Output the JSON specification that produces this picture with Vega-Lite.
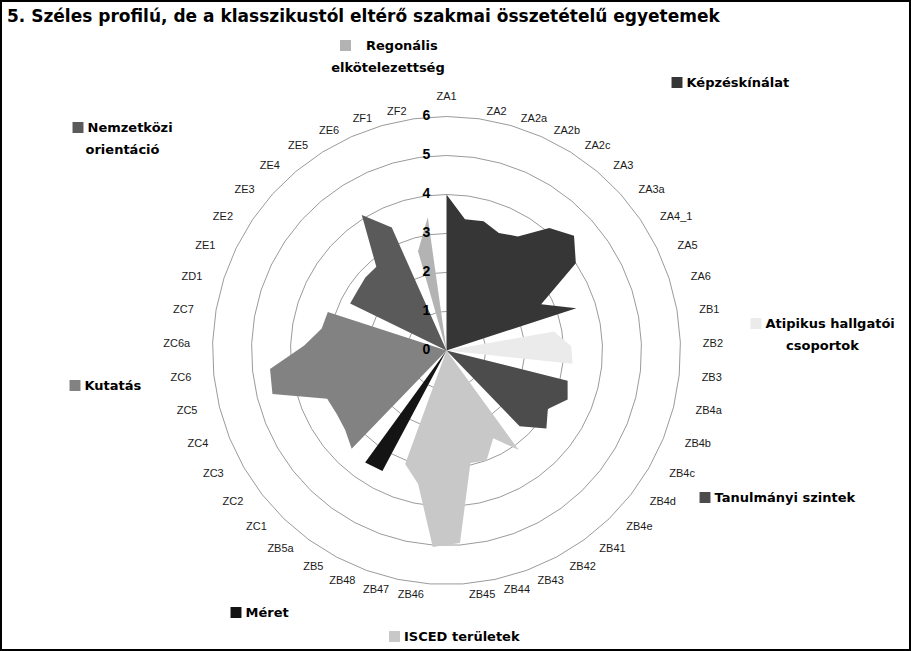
{
  "$schema": "https://vega.github.io/schema/vega-lite/v6.json",
  "width": 911,
  "height": 651,
  "padding": 0,
  "autosize": {"type": "none"},
  "background": "white",
  "title": {
    "text": "5. Széles profilú, de a klasszikustól eltérő szakmai összetételű egyetemek",
    "anchor": "start", "frame": "group", "orient": "top", "offset": -21, "dx": 7, "dy": 17.5,
    "baseline": "alphabetic", "font": "DejaVu Sans", "fontSize": 17, "fontWeight": "bold", "color": "black"
  },
  "config": {
    "view": {"stroke": "black", "strokeWidth": 4},
    "legend": {
      "orient": "none", "symbolType": "square", "symbolSize": 120, "symbolStrokeWidth": 0,
      "labelFont": "DejaVu Sans", "labelFontSize": 13, "labelFontWeight": "bold", "labelColor": "black",
      "labelOffset": 3, "padding": 0,
      "titleFont": "DejaVu Sans", "titleFontSize": 13, "titleFontWeight": "bold", "titleColor": "black",
      "titleOrient": "bottom", "titleAnchor": "middle", "titlePadding": 9
    }
  },
  "datasets": {
    "cats": [
      {"cat": "ZA1", "group": "Képzéskínálat", "value": 4.0},
      {"cat": "ZA2", "group": "Képzéskínálat", "value": 3.4},
      {"cat": "ZA2a", "group": "Képzéskínálat", "value": 3.45},
      {"cat": "ZA2b", "group": "Képzéskínálat", "value": 3.3},
      {"cat": "ZA2c", "group": "Képzéskínálat", "value": 3.45},
      {"cat": "ZA3", "group": "Képzéskínálat", "value": 4.1},
      {"cat": "ZA3a", "group": "Képzéskínálat", "value": 4.4},
      {"cat": "ZA4_1", "group": "Képzéskínálat", "value": 4.0},
      {"cat": "ZA5", "group": "Képzéskínálat", "value": 2.7},
      {"cat": "ZA6", "group": "Képzéskínálat", "value": 3.5},
      {"cat": "ZB1", "group": "Atipikus hallgatói csoportok", "value": 2.8},
      {"cat": "ZB2", "group": "Atipikus hallgatói csoportok", "value": 3.2},
      {"cat": "ZB3", "group": "Atipikus hallgatói csoportok", "value": 3.25},
      {"cat": "ZB4a", "group": "Tanulmányi szintek", "value": 3.2},
      {"cat": "ZB4b", "group": "Tanulmányi szintek", "value": 3.35},
      {"cat": "ZB4c", "group": "Tanulmányi szintek", "value": 3.0},
      {"cat": "ZB4d", "group": "Tanulmányi szintek", "value": 3.25},
      {"cat": "ZB4e", "group": "Tanulmányi szintek", "value": 2.7},
      {"cat": "ZB41", "group": "ISCED területek", "value": 3.15},
      {"cat": "ZB42", "group": "ISCED területek", "value": 2.55},
      {"cat": "ZB43", "group": "ISCED területek", "value": 3.0},
      {"cat": "ZB44", "group": "ISCED területek", "value": 2.95},
      {"cat": "ZB45", "group": "ISCED területek", "value": 4.95},
      {"cat": "ZB46", "group": "ISCED területek", "value": 5.05},
      {"cat": "ZB47", "group": "ISCED területek", "value": 3.5},
      {"cat": "ZB48", "group": "ISCED területek", "value": 3.1},
      {"cat": "ZB5", "group": "Méret", "value": 3.5},
      {"cat": "ZB5a", "group": "Méret", "value": 3.55},
      {"cat": "ZC1", "group": "Kutatás", "value": 3.5},
      {"cat": "ZC2", "group": "Kutatás", "value": 3.3},
      {"cat": "ZC3", "group": "Kutatás", "value": 3.25},
      {"cat": "ZC4", "group": "Kutatás", "value": 3.3},
      {"cat": "ZC5", "group": "Kutatás", "value": 4.6},
      {"cat": "ZC6", "group": "Kutatás", "value": 4.55},
      {"cat": "ZC6a", "group": "Kutatás", "value": 3.65},
      {"cat": "ZC7", "group": "Kutatás", "value": 3.25},
      {"cat": "ZD1", "group": "Kutatás", "value": 3.2},
      {"cat": "ZE1", "group": "Nemzetközi orientáció", "value": 2.75},
      {"cat": "ZE2", "group": "Nemzetközi orientáció", "value": 2.75},
      {"cat": "ZE3", "group": "Nemzetközi orientáció", "value": 2.8},
      {"cat": "ZE4", "group": "Nemzetközi orientáció", "value": 2.8},
      {"cat": "ZE5", "group": "Nemzetközi orientáció", "value": 4.1},
      {"cat": "ZE6", "group": "Nemzetközi orientáció", "value": 3.45},
      {"cat": "ZF1", "group": "Regonális elkötelezettség", "value": 2.65},
      {"cat": "ZF2", "group": "Regonális elkötelezettség", "value": 3.45}
    ]
  },
  "resolve": {"scale": {"color": "independent"}, "legend": {"color": "independent"}},
  "layer": [
    {
      "data": {"name": "cats"},
      "transform": [
        {"window": [{"op": "row_number", "as": "rn"}]},
        {"calculate": "(datum.rn - 1) * 2 * PI / 45", "as": "th"},
        {"calculate": "[1,2,3,4,5,6]", "as": "lv"},
        {"flatten": ["lv"]},
        {"calculate": "datum.lv * sin(datum.th)", "as": "px"},
        {"calculate": "datum.lv * cos(datum.th)", "as": "py"}
      ],
      "mark": {"type": "line", "interpolate": "linear-closed", "color": "#808080", "strokeWidth": 0.8},
      "encoding": {
        "x": {"field": "px", "type": "quantitative", "scale": {"domain": [-11.449, 11.91], "nice": false, "zero": false}, "axis": null},
        "y": {"field": "py", "type": "quantitative", "scale": {"domain": [-7.705, 8.987], "nice": false, "zero": false}, "axis": null},
        "detail": {"field": "lv", "type": "nominal"},
        "order": {"field": "rn", "type": "quantitative"}
      }
    },
    {
      "data": {"name": "cats"},
      "transform": [
        {"window": [{"op": "row_number", "as": "rn"}]},
        {"calculate": "(datum.rn - 1) * 2 * PI / 45", "as": "th"},
        {"calculate": "datum.group == 'Képzéskínálat' ? datum.value : 0", "as": "r"},
        {"calculate": "datum.r * sin(datum.th)", "as": "px"},
        {"calculate": "datum.r * cos(datum.th)", "as": "py"}
      ],
      "mark": {"type": "line", "interpolate": "linear-closed", "filled": true, "strokeWidth": 0},
      "encoding": {
        "x": {"field": "px", "type": "quantitative", "scale": {"domain": [-11.449, 11.91], "nice": false, "zero": false}, "axis": null},
        "y": {"field": "py", "type": "quantitative", "scale": {"domain": [-7.705, 8.987], "nice": false, "zero": false}, "axis": null},
        "order": {"field": "rn", "type": "quantitative"},
        "color": {"datum": "Képzéskínálat", "type": "nominal", "scale": {"domain": ["Képzéskínálat"], "range": ["#363636"]},
          "legend": {"title": null, "legendX": 670.5, "legendY": 76, "symbolFillColor": "#363636"}}
      }
    },
    {
      "data": {"name": "cats"},
      "transform": [
        {"window": [{"op": "row_number", "as": "rn"}]},
        {"calculate": "(datum.rn - 1) * 2 * PI / 45", "as": "th"},
        {"calculate": "datum.group == 'Atipikus hallgatói csoportok' ? datum.value : 0", "as": "r"},
        {"calculate": "datum.r * sin(datum.th)", "as": "px"},
        {"calculate": "datum.r * cos(datum.th)", "as": "py"}
      ],
      "mark": {"type": "line", "interpolate": "linear-closed", "filled": true, "strokeWidth": 0},
      "encoding": {
        "x": {"field": "px", "type": "quantitative", "scale": {"domain": [-11.449, 11.91], "nice": false, "zero": false}, "axis": null},
        "y": {"field": "py", "type": "quantitative", "scale": {"domain": [-7.705, 8.987], "nice": false, "zero": false}, "axis": null},
        "order": {"field": "rn", "type": "quantitative"},
        "color": {"datum": "Atipikus hallgatói csoportok", "type": "nominal", "scale": {"domain": ["Atipikus hallgatói csoportok"], "range": ["#ebebeb"]},
          "legend": {"title": "csoportok", "labelExpr": "'Atipikus hallgatói'", "legendX": 749.5, "legendY": 317, "symbolFillColor": "#ebebeb"}}
      }
    },
    {
      "data": {"name": "cats"},
      "transform": [
        {"window": [{"op": "row_number", "as": "rn"}]},
        {"calculate": "(datum.rn - 1) * 2 * PI / 45", "as": "th"},
        {"calculate": "datum.group == 'Tanulmányi szintek' ? datum.value : 0", "as": "r"},
        {"calculate": "datum.r * sin(datum.th)", "as": "px"},
        {"calculate": "datum.r * cos(datum.th)", "as": "py"}
      ],
      "mark": {"type": "line", "interpolate": "linear-closed", "filled": true, "strokeWidth": 0},
      "encoding": {
        "x": {"field": "px", "type": "quantitative", "scale": {"domain": [-11.449, 11.91], "nice": false, "zero": false}, "axis": null},
        "y": {"field": "py", "type": "quantitative", "scale": {"domain": [-7.705, 8.987], "nice": false, "zero": false}, "axis": null},
        "order": {"field": "rn", "type": "quantitative"},
        "color": {"datum": "Tanulmányi szintek", "type": "nominal", "scale": {"domain": ["Tanulmányi szintek"], "range": ["#4c4c4c"]},
          "legend": {"title": null, "legendX": 698.5, "legendY": 491, "symbolFillColor": "#4c4c4c"}}
      }
    },
    {
      "data": {"name": "cats"},
      "transform": [
        {"window": [{"op": "row_number", "as": "rn"}]},
        {"calculate": "(datum.rn - 1) * 2 * PI / 45", "as": "th"},
        {"calculate": "datum.group == 'ISCED területek' ? datum.value : 0", "as": "r"},
        {"calculate": "datum.r * sin(datum.th)", "as": "px"},
        {"calculate": "datum.r * cos(datum.th)", "as": "py"}
      ],
      "mark": {"type": "line", "interpolate": "linear-closed", "filled": true, "strokeWidth": 0},
      "encoding": {
        "x": {"field": "px", "type": "quantitative", "scale": {"domain": [-11.449, 11.91], "nice": false, "zero": false}, "axis": null},
        "y": {"field": "py", "type": "quantitative", "scale": {"domain": [-7.705, 8.987], "nice": false, "zero": false}, "axis": null},
        "order": {"field": "rn", "type": "quantitative"},
        "color": {"datum": "ISCED területek", "type": "nominal", "scale": {"domain": ["ISCED területek"], "range": ["#c8c8c8"]},
          "legend": {"title": null, "legendX": 388, "legendY": 630, "symbolFillColor": "#c8c8c8"}}
      }
    },
    {
      "data": {"name": "cats"},
      "transform": [
        {"window": [{"op": "row_number", "as": "rn"}]},
        {"calculate": "(datum.rn - 1) * 2 * PI / 45", "as": "th"},
        {"calculate": "datum.group == 'Méret' ? datum.value : 0", "as": "r"},
        {"calculate": "datum.r * sin(datum.th)", "as": "px"},
        {"calculate": "datum.r * cos(datum.th)", "as": "py"}
      ],
      "mark": {"type": "line", "interpolate": "linear-closed", "filled": true, "strokeWidth": 0},
      "encoding": {
        "x": {"field": "px", "type": "quantitative", "scale": {"domain": [-11.449, 11.91], "nice": false, "zero": false}, "axis": null},
        "y": {"field": "py", "type": "quantitative", "scale": {"domain": [-7.705, 8.987], "nice": false, "zero": false}, "axis": null},
        "order": {"field": "rn", "type": "quantitative"},
        "color": {"datum": "Méret", "type": "nominal", "scale": {"domain": ["Méret"], "range": ["#141414"]},
          "legend": {"title": null, "legendX": 229.5, "legendY": 606, "symbolFillColor": "#141414"}}
      }
    },
    {
      "data": {"name": "cats"},
      "transform": [
        {"window": [{"op": "row_number", "as": "rn"}]},
        {"calculate": "(datum.rn - 1) * 2 * PI / 45", "as": "th"},
        {"calculate": "datum.group == 'Kutatás' ? datum.value : 0", "as": "r"},
        {"calculate": "datum.r * sin(datum.th)", "as": "px"},
        {"calculate": "datum.r * cos(datum.th)", "as": "py"}
      ],
      "mark": {"type": "line", "interpolate": "linear-closed", "filled": true, "strokeWidth": 0},
      "encoding": {
        "x": {"field": "px", "type": "quantitative", "scale": {"domain": [-11.449, 11.91], "nice": false, "zero": false}, "axis": null},
        "y": {"field": "py", "type": "quantitative", "scale": {"domain": [-7.705, 8.987], "nice": false, "zero": false}, "axis": null},
        "order": {"field": "rn", "type": "quantitative"},
        "color": {"datum": "Kutatás", "type": "nominal", "scale": {"domain": ["Kutatás"], "range": ["#828282"]},
          "legend": {"title": null, "legendX": 68.5, "legendY": 379, "symbolFillColor": "#828282"}}
      }
    },
    {
      "data": {"name": "cats"},
      "transform": [
        {"window": [{"op": "row_number", "as": "rn"}]},
        {"calculate": "(datum.rn - 1) * 2 * PI / 45", "as": "th"},
        {"calculate": "datum.group == 'Nemzetközi orientáció' ? datum.value : 0", "as": "r"},
        {"calculate": "datum.r * sin(datum.th)", "as": "px"},
        {"calculate": "datum.r * cos(datum.th)", "as": "py"}
      ],
      "mark": {"type": "line", "interpolate": "linear-closed", "filled": true, "strokeWidth": 0},
      "encoding": {
        "x": {"field": "px", "type": "quantitative", "scale": {"domain": [-11.449, 11.91], "nice": false, "zero": false}, "axis": null},
        "y": {"field": "py", "type": "quantitative", "scale": {"domain": [-7.705, 8.987], "nice": false, "zero": false}, "axis": null},
        "order": {"field": "rn", "type": "quantitative"},
        "color": {"datum": "Nemzetközi orientáció", "type": "nominal", "scale": {"domain": ["Nemzetközi orientáció"], "range": ["#5a5a5a"]},
          "legend": {"title": "orientáció", "labelExpr": "'Nemzetközi'", "legendX": 71.5, "legendY": 121, "symbolFillColor": "#5a5a5a"}}
      }
    },
    {
      "data": {"name": "cats"},
      "transform": [
        {"window": [{"op": "row_number", "as": "rn"}]},
        {"calculate": "(datum.rn - 1) * 2 * PI / 45", "as": "th"},
        {"calculate": "datum.group == 'Regonális elkötelezettség' ? datum.value : 0", "as": "r"},
        {"calculate": "datum.r * sin(datum.th)", "as": "px"},
        {"calculate": "datum.r * cos(datum.th)", "as": "py"}
      ],
      "mark": {"type": "line", "interpolate": "linear-closed", "filled": true, "strokeWidth": 0},
      "encoding": {
        "x": {"field": "px", "type": "quantitative", "scale": {"domain": [-11.449, 11.91], "nice": false, "zero": false}, "axis": null},
        "y": {"field": "py", "type": "quantitative", "scale": {"domain": [-7.705, 8.987], "nice": false, "zero": false}, "axis": null},
        "order": {"field": "rn", "type": "quantitative"},
        "color": {"datum": "Regonális elkötelezettség", "type": "nominal", "scale": {"domain": ["Regonális elkötelezettség"], "range": ["#b3b3b3"]},
          "legend": {"title": "elkötelezettség", "labelExpr": "'Regonális'", "labelOffset": 14, "legendX": 331, "legendY": 39, "symbolFillColor": "#b3b3b3"}}
      }
    },
    {
      "data": {"values": [{"lv": 0}, {"lv": 1}, {"lv": 2}, {"lv": 3}, {"lv": 4}, {"lv": 5}, {"lv": 6}]},
      "mark": {"type": "text", "dx": -20, "align": "center", "baseline": "middle", "font": "Liberation Sans", "fontSize": 14, "fontWeight": "bold", "color": "black"},
      "encoding": {
        "x": {"datum": 0, "type": "quantitative", "scale": {"domain": [-11.449, 11.91], "nice": false, "zero": false}, "axis": null},
        "y": {"field": "lv", "type": "quantitative", "scale": {"domain": [-7.705, 8.987], "nice": false, "zero": false}, "axis": null},
        "text": {"field": "lv", "type": "quantitative"}
      }
    },
    {
      "data": {"name": "cats"},
      "transform": [
        {"window": [{"op": "row_number", "as": "rn"}]},
        {"calculate": "(datum.rn - 1) * 2 * PI / 45", "as": "th"},
        {"filter": "datum.rn >= 2 && datum.rn <= 23"},
        {"calculate": "(251.5 * sin(datum.th) + 5) / 39", "as": "lx"},
        {"calculate": "(243 * cos(datum.th) - 2) / 39", "as": "ly"}
      ],
      "mark": {"type": "text", "align": "left", "baseline": "middle", "font": "Liberation Sans", "fontSize": 11, "color": "#1a1a1a"},
      "encoding": {
        "x": {"field": "lx", "type": "quantitative", "scale": {"domain": [-11.449, 11.91], "nice": false, "zero": false}, "axis": null},
        "y": {"field": "ly", "type": "quantitative", "scale": {"domain": [-7.705, 8.987], "nice": false, "zero": false}, "axis": null},
        "text": {"field": "cat", "type": "nominal"}
      }
    },
    {
      "data": {"name": "cats"},
      "transform": [
        {"window": [{"op": "row_number", "as": "rn"}]},
        {"calculate": "(datum.rn - 1) * 2 * PI / 45", "as": "th"},
        {"filter": "datum.rn >= 24"},
        {"calculate": "(251.5 * sin(datum.th) - 5) / 39", "as": "lx"},
        {"calculate": "(243 * cos(datum.th) - 2) / 39", "as": "ly"}
      ],
      "mark": {"type": "text", "align": "right", "baseline": "middle", "font": "Liberation Sans", "fontSize": 11, "color": "#1a1a1a"},
      "encoding": {
        "x": {"field": "lx", "type": "quantitative", "scale": {"domain": [-11.449, 11.91], "nice": false, "zero": false}, "axis": null},
        "y": {"field": "ly", "type": "quantitative", "scale": {"domain": [-7.705, 8.987], "nice": false, "zero": false}, "axis": null},
        "text": {"field": "cat", "type": "nominal"}
      }
    },
    {
      "data": {"name": "cats"},
      "transform": [
        {"window": [{"op": "row_number", "as": "rn"}]},
        {"filter": "datum.rn == 1"},
        {"calculate": "0", "as": "lx"},
        {"calculate": "253.5 / 39", "as": "ly"}
      ],
      "mark": {"type": "text", "align": "center", "baseline": "middle", "font": "Liberation Sans", "fontSize": 11, "color": "#1a1a1a"},
      "encoding": {
        "x": {"field": "lx", "type": "quantitative", "scale": {"domain": [-11.449, 11.91], "nice": false, "zero": false}, "axis": null},
        "y": {"field": "ly", "type": "quantitative", "scale": {"domain": [-7.705, 8.987], "nice": false, "zero": false}, "axis": null},
        "text": {"field": "cat", "type": "nominal"}
      }
    }
  ]
}
